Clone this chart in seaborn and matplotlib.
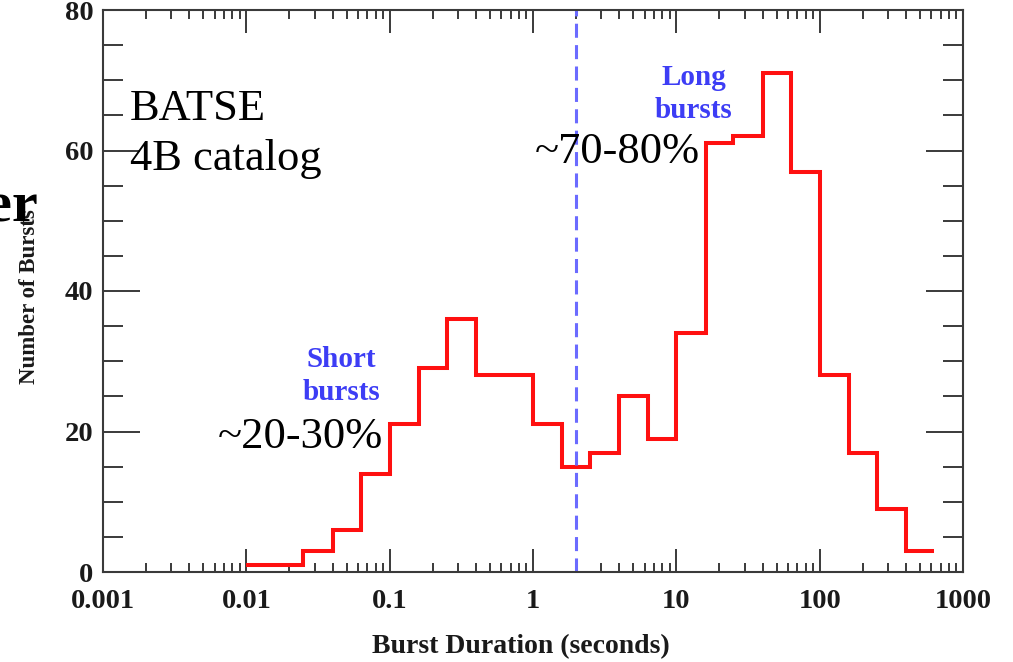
import numpy as np
import matplotlib
matplotlib.use("Agg")
import matplotlib.pyplot as plt
from matplotlib.ticker import LogLocator, MultipleLocator, NullFormatter
import seaborn as sns

# Duration histogram of BATSE 4B bursts (log-spaced bins, 0.2 dex wide)
bin_edges = [0.01, 0.016, 0.025, 0.04, 0.063, 0.1, 0.16, 0.25, 0.4, 0.63,
             1.0, 1.6, 2.5, 4.0, 6.3, 10, 16, 25, 40, 63,
             100, 160, 250, 400, 630]
burst_counts = [1, 1, 3, 6, 14, 21, 29, 36, 28, 28,
                21, 15, 17, 25, 19, 34, 61, 62, 71, 57,
                28, 17, 9, 3]

x_ticks = [0.001, 0.01, 0.1, 1, 10, 100, 1000]
x_tick_labels = ["0.001", "0.01", "0.1", "1", "10", "100", "1000"]
y_ticks = [0, 20, 40, 60, 80]
y_tick_labels = ["0", "20", "40", "60", "80"]

divider_seconds = 2.0

sns.set_theme(style="white")
plt.rcParams["font.family"] = ["Liberation Serif", "DejaVu Serif"]
plt.rcParams["axes.edgecolor"] = "#3a3a3a"
plt.rcParams["axes.linewidth"] = 1.5

W, H = 1013, 662
fig = plt.figure(figsize=(W / 100, H / 100), dpi=100)
ax = fig.add_axes([103 / W, 1 - 572 / H, 860 / W, 562 / H])

# Step outline: each count holds until the next bin edge
step_x = np.array(bin_edges, dtype=float)
step_y = np.array(burst_counts + [burst_counts[-1]], dtype=float)
sns.lineplot(x=step_x, y=step_y, ax=ax, estimator=None, sort=False,
             drawstyle="steps-post", color="#ff1010", linewidth=2.9,
             solid_joinstyle="miter", solid_capstyle="butt")

ax.axvline(divider_seconds, color="#6b6bff", linewidth=2.2,
           linestyle=(0, (4.6, 2.4)))

ax.set_xscale("log")
ax.set_xlim(0.001, 1000)
ax.set_ylim(0, 80)

ax.set_xticks(x_ticks, labels=x_tick_labels)
ax.xaxis.set_minor_locator(LogLocator(base=10, subs=np.arange(2, 10)))
ax.xaxis.set_minor_formatter(NullFormatter())
ax.set_yticks(y_ticks, labels=y_tick_labels)
ax.yaxis.set_minor_locator(MultipleLocator(5))

ax.tick_params(which="both", direction="in", top=True, right=True,
               bottom=True, left=True, color="#3a3a3a", width=1.4)
ax.tick_params(axis="x", which="major", length=16.5, pad=12, labelsize=20.5,
               labelcolor="#1a1a1a")
ax.tick_params(axis="x", which="minor", length=6.5)
ax.tick_params(axis="y", which="major", length=26.6, pad=7, labelsize=20.5,
               labelcolor="#1a1a1a")
ax.tick_params(axis="y", which="minor", length=14.4)
for lbl in ax.get_xticklabels() + ax.get_yticklabels():
    lbl.set_fontweight("bold")

ax.set_xlabel("Burst Duration (seconds)", fontsize=20, fontweight="bold",
              color="#1a1a1a")
ax.xaxis.set_label_coords(0.486, -0.11)
ax.set_ylabel("Number of Bursts", fontsize=16.5, fontweight="bold",
              color="#1a1a1a")
ax.yaxis.set_label_coords(-0.073, 0.49)

# Catalogue tag and population fractions
serif = ["Liberation Serif", "DejaVu Serif"]
ax.text(0.00154, 64.3, "BATSE", fontsize=32, family=serif,
        ha="left", va="baseline", color="black")
ax.text(0.00154, 57.2, "4B catalog", fontsize=32, family=serif,
        ha="left", va="baseline", color="black")
ax.text(14.6, 58.2, "~70-80%", fontsize=32, family=serif,
        ha="right", va="baseline", color="black")
ax.text(0.0892, 17.6, "~20-30%", fontsize=32, family=serif,
        ha="right", va="baseline", color="black")

blue = "#3d3df5"
ax.text(0.0463, 29.2, "Short", fontsize=21, fontweight="bold", family=serif,
        ha="center", va="baseline", color=blue)
ax.text(0.0463, 24.5, "bursts", fontsize=21, fontweight="bold", family=serif,
        ha="center", va="baseline", color=blue)
ax.text(13.2, 69.3, "Long", fontsize=21, fontweight="bold", family=serif,
        ha="center", va="baseline", color=blue)
ax.text(13.2, 64.6, "bursts", fontsize=21, fontweight="bold", family=serif,
        ha="center", va="baseline", color=blue)

# Word running in from the left margin of the page
fig.text(38 / W, 1 - 222 / H, "er", fontsize=42, fontweight="bold",
         family=serif, ha="right", va="baseline", color="black")

fig.savefig("out.png", dpi=100)
